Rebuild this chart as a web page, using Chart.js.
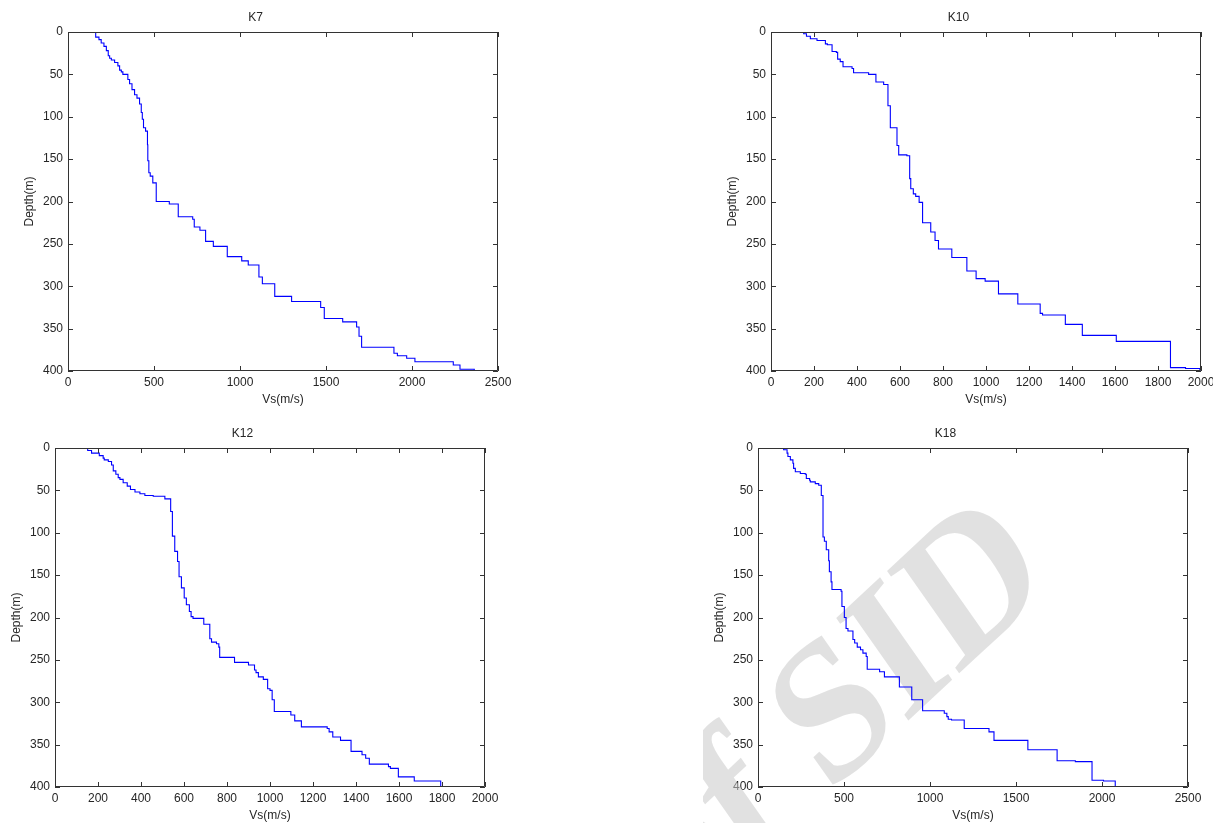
<!DOCTYPE html>
<html>
<head>
<meta charset="utf-8">
<title>Vs profiles</title>
<script src="https://cdn.jsdelivr.net/npm/chart.js@4.4.1/dist/chart.umd.min.js"></script>
<style>
  html, body { margin: 0; padding: 0; background: #fff; }
  body { position: relative; width: 1213px; height: 823px; overflow: hidden; }
  canvas { position: absolute; }
</style>
</head>
<body>
<canvas id="k7"></canvas>
<canvas id="k10"></canvas>
<canvas id="k12"></canvas>
<canvas id="k18"></canvas>
<script>
// Shear-wave velocity profiles: each layer has a velocity (m/s) and a top depth (m)
const k7Vs  = [161, 180, 193, 209, 223, 234, 242, 252, 271, 290, 300, 310, 319, 348, 358, 372, 387, 401, 416, 426,
               432, 439, 451, 462, 464, 470, 478, 493, 513, 589, 641, 725, 734, 767, 800, 845, 926, 1010, 1048, 1110,
               1130, 1202, 1300, 1469, 1490, 1597, 1678, 1692, 1707, 1895, 1915, 1969, 2017, 2240, 2279, 2362];
const k7Top = [0, 6, 9, 13, 17, 22, 28, 31, 33, 36, 40, 45, 47, 50, 56, 61, 68, 74, 78, 85,
               95, 103, 113, 117, 133, 152, 166, 170, 178, 200, 203, 218, 221, 230, 234, 247, 253, 265, 270, 275,
               289, 297, 312, 318, 325, 338, 342, 348, 359, 372, 379, 382, 385, 389, 393, 398];

const k10Vs  = [152, 165, 183, 214, 253, 262, 284, 304, 310, 322, 335, 377, 384, 454, 488, 524, 544, 555, 586, 594,
                632, 645, 650, 662, 673, 689, 705, 743, 763, 779, 841, 911, 954, 996, 1058, 1148, 1252, 1263, 1369, 1448,
                1606, 1858, 1928, 1995];
const k10Top = [0, 2, 5, 8, 10, 14, 15, 23, 24, 32, 35, 41, 43, 48, 50, 59, 62, 87, 113, 134,
                145, 146, 173, 185, 191, 194, 201, 225, 236, 246, 256, 266, 282, 291, 294, 309, 321, 332, 334, 345,
                358, 365, 396, 397];

const k12Vs  = [152, 170, 206, 224, 229, 248, 263, 271, 283, 294, 302, 317, 336, 351, 372, 395, 418, 457, 511, 538,
                546, 557, 570, 577, 588, 601, 611, 625, 633, 642, 692, 720, 728, 751, 762, 766, 835, 900, 928, 935,
                946, 969, 989, 1000, 1010, 1020, 1097, 1115, 1146, 1266, 1275, 1292, 1328, 1377, 1428, 1445, 1462, 1551,
                1560, 1597, 1671, 1794];
const k12Top = [0, 3, 6, 9, 12, 14, 16, 20, 27, 31, 35, 37, 41, 45, 49, 52, 54, 56, 57, 60,
                75, 104, 122, 134, 152, 165, 177, 185, 193, 199, 201, 208, 225, 229, 231, 235, 247, 253, 256, 262,
                265, 270, 273, 284, 286, 297, 311, 315, 322, 329, 331, 335, 341, 345, 358, 362, 366, 373,
                376, 378, 388, 393];

const k18Vs  = [149, 169, 174, 188, 203, 207, 217, 246, 275, 281, 300, 304, 333, 353, 368, 378, 386, 397, 411, 415,
                425, 430, 483, 488, 502, 512, 523, 552, 562, 577, 596, 610, 629, 635, 707, 735, 822, 894, 957, 1083,
                1098, 1106, 1125, 1199, 1343, 1372, 1569, 1739, 1845, 1942, 2009, 2077];
const k18Top = [0, 2, 6, 10, 14, 18, 24, 28, 30, 31, 36, 38, 40, 42, 44, 56, 105, 110, 120, 133,
                146, 158, 167, 169, 187, 200, 213, 216, 226, 230, 235, 238, 242, 246, 261, 264, 270, 282, 297, 310,
                313, 317, 320, 321, 331, 335, 345, 356, 369, 370, 392, 393];

const boreholes = ['K7', 'K10', 'K12', 'K18'];
const maxDepth = 400;
const depthStep = 50;
const vsMax  = [2500, 2000, 2000, 2500];
const vsStep = [500, 200, 200, 500];

// plot-area size and the margin reserved around it on every canvas
const PLOT_W = 430, PLOT_H = 339;
const MARGIN = { left: 55, top: 32, right: 20, bottom: 45 };

Chart.defaults.font.family = '"Liberation Sans", Arial, Helvetica, sans-serif';
Chart.defaults.font.size = 12;
Chart.defaults.color = '#262626';

// layers -> staircase points, closed off at the bottom of the profile
function profilePoints(vs, top) {
  const pts = vs.map((v, i) => ({ x: v, y: top[i] }));
  pts.push({ x: vs[vs.length - 1], y: maxDepth });
  return pts;
}

function placeCanvas(id, plotLeft, plotTop) {
  const c = document.getElementById(id);
  const w = MARGIN.left + PLOT_W + MARGIN.right;
  const h = MARGIN.top + PLOT_H + MARGIN.bottom;
  c.width = w;
  c.height = h;
  c.style.left = (plotLeft - MARGIN.left) + 'px';
  c.style.top = (plotTop - MARGIN.top) + 'px';
  c.style.width = w + 'px';
  c.style.height = h + 'px';
  return c;
}

// matlab-like frame: full box with inward ticks on all four sides
const boxAxes = {
  id: 'boxAxes',
  afterDatasetsDraw(chart) {
    const { ctx, chartArea: a, scales: { x, y } } = chart;
    const len = 5;
    ctx.save();
    ctx.strokeStyle = '#333';
    ctx.lineWidth = 1;
    ctx.beginPath();
    ctx.rect(a.left + 0.5, a.top + 0.5, a.right - a.left - 1, a.bottom - a.top - 1);
    x.ticks.forEach(t => {
      const px = Math.round(x.getPixelForValue(t.value)) + 0.5;
      ctx.moveTo(px, a.top);
      ctx.lineTo(px, a.top + len);
      ctx.moveTo(px, a.bottom);
      ctx.lineTo(px, a.bottom - len);
    });
    y.ticks.forEach(t => {
      const py = Math.round(y.getPixelForValue(t.value)) + 0.5;
      ctx.moveTo(a.left, py);
      ctx.lineTo(a.left + len, py);
      ctx.moveTo(a.right, py);
      ctx.lineTo(a.right - len, py);
    });
    ctx.stroke();
    ctx.restore();
  }
};

// faint diagonal stamp across the K18 panel
const stamp = {
  id: 'stamp',
  beforeDatasetsDraw(chart) {
    const ctx = chart.ctx;
    ctx.save();
    ctx.translate(352, 168);
    ctx.scale(1, 1.15);
    ctx.rotate(-39 * Math.PI / 180);
    ctx.font = 'bold 175px "Liberation Serif", "DejaVu Serif", serif';
    ctx.fillStyle = 'rgba(200, 200, 200, 0.55)';
    ctx.textAlign = 'right';
    ctx.textBaseline = 'alphabetic';
    ctx.fillText('of SID', 0, 0);
    ctx.restore();
  }
};

function makeProfileChart(canvas, idx, vs, top, extraPlugins) {
  return new Chart(canvas, {
    type: 'line',
    data: {
      datasets: [{
        data: profilePoints(vs, top),
        stepped: 'after',
        borderColor: '#0000ff',
        borderWidth: 1.1,
        pointRadius: 0,
        fill: false,
        tension: 0
      }]
    },
    options: {
      responsive: false,
      animation: false,
      devicePixelRatio: 1,
      layout: { padding: { left: 0, top: 0, right: MARGIN.right, bottom: 0 } },
      plugins: {
        legend: { display: false },
        tooltip: { enabled: false },
        title: {
          display: true,
          text: boreholes[idx],
          color: '#262626',
          font: { size: 12, weight: 'normal' },
          padding: { top: 10, bottom: 7.6 }
        }
      },
      scales: {
        x: {
          type: 'linear',
          position: 'bottom',
          min: 0,
          max: vsMax[idx],
          ticks: { stepSize: vsStep[idx], padding: 4, maxRotation: 0, autoSkip: false, callback: v => String(v) },
          grid: { display: false, drawTicks: false },
          border: { display: false },
          title: { display: true, text: 'Vs(m/s)', padding: { top: 0, bottom: 9 } },
          afterFit: s => { s.height = MARGIN.bottom; }
        },
        y: {
          type: 'linear',
          reverse: true,
          min: 0,
          max: maxDepth,
          ticks: { stepSize: depthStep, padding: 5, autoSkip: false, callback: v => String(v) },
          grid: { display: false, drawTicks: false },
          border: { display: false },
          title: { display: true, text: 'Depth(m)', padding: { top: 9, bottom: 0 } },
          afterFit: s => { s.width = MARGIN.left; }
        }
      }
    },
    plugins: [boxAxes].concat(extraPlugins || [])
  });
}

makeProfileChart(placeCanvas('k7', 68, 32), 0, k7Vs, k7Top);
makeProfileChart(placeCanvas('k10', 771, 32), 1, k10Vs, k10Top);
makeProfileChart(placeCanvas('k12', 55, 448), 2, k12Vs, k12Top);
makeProfileChart(placeCanvas('k18', 758, 448), 3, k18Vs, k18Top, [stamp]);
</script>
</body>
</html>
